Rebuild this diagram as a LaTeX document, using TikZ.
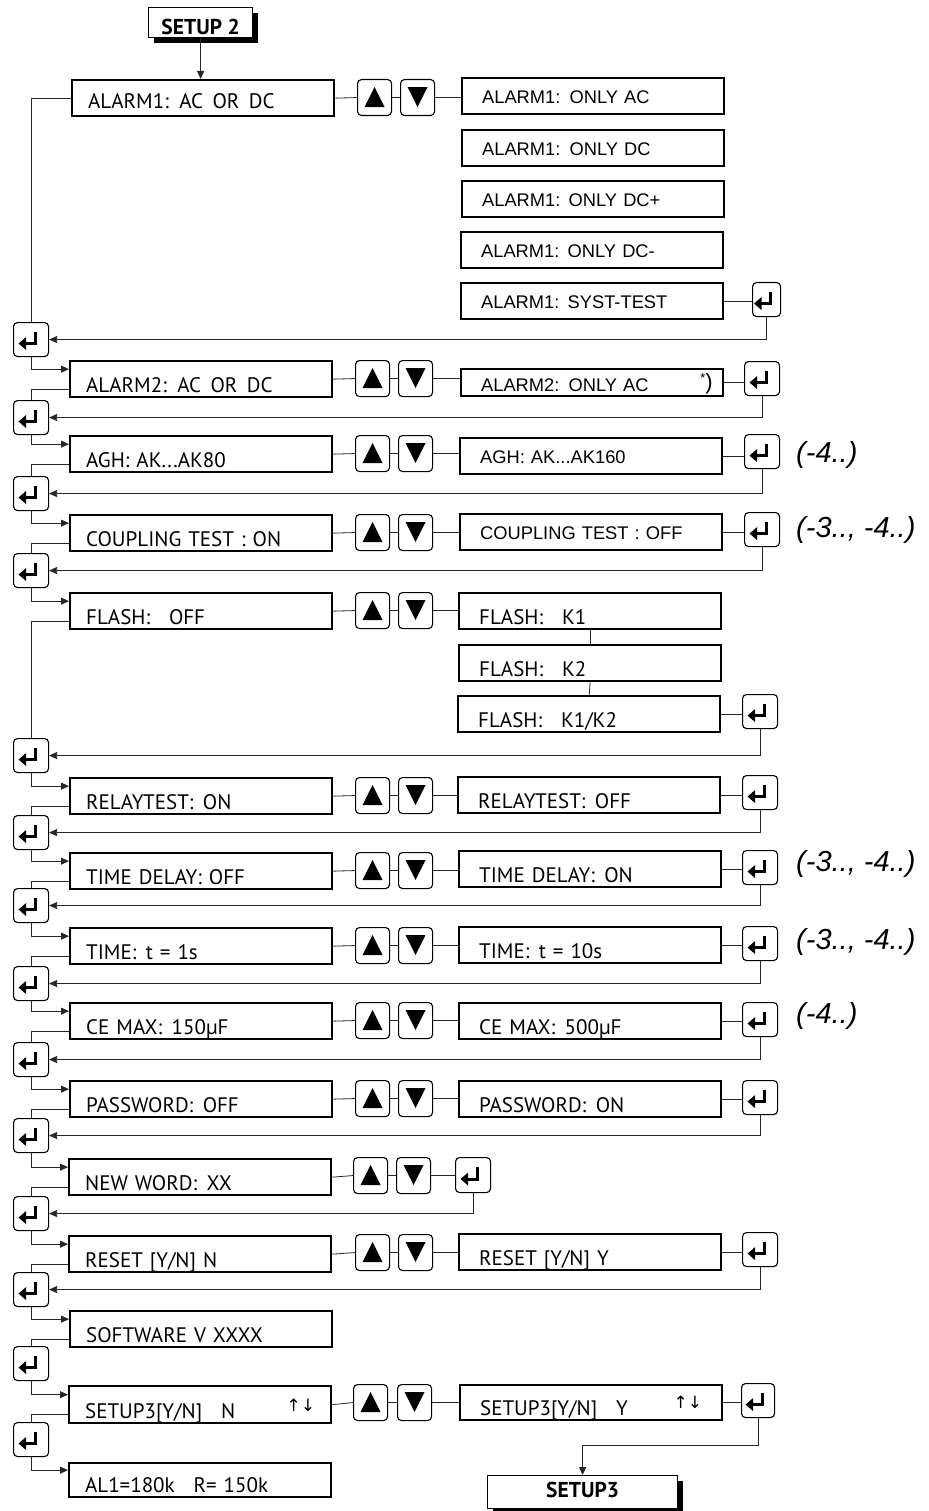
\documentclass[tikz,border=0pt]{standalone}
\usepackage{fontspec}
\setmainfont{PT Sans}
\newfontfamily\hvfam{Liberation Sans}
\newfontfamily\djfam{DejaVu Sans}
\usetikzlibrary{arrows.meta,shadows}
\newcommand\mytxt{\fontsize{21}{25}\selectfont}
\newcommand\hvtxt{\hvfam\fontsize{18.3}{22}\selectfont}
\newcommand\notetxt{\hvfam\itshape\fontsize{29}{32}\selectfont}
\newcommand\ws{\hspace{0.45em}}
\newcommand\wws{\hspace{0.9em}}
\newcommand\updn{\hfill{\djfam\fontsize{17}{17}\selectfont\raisebox{7pt}{↑↓}}\hspace{8pt}}
\begin{document}
\begin{tikzpicture}[x=1pt,y=-1pt,
  conn/.style={line width=0.8pt, draw=black!85},
  arr/.style={-{Triangle[length=8pt,width=7pt]}},
  lbox/.style={draw, line width=2.3pt, rectangle, anchor=north west, inner xsep=16pt, inner ysep=0pt,
     text width=230pt, align=left, text height=31pt, text depth=5pt, font=\mytxt},
  rbox/.style={lbox, inner xsep=20pt, text width=222pt},
  hbox/.style={rbox, text height=25pt, text depth=11pt, font=\hvtxt},
  sbox/.style={draw, line width=1.2pt, fill=white, anchor=north west, inner sep=0pt,
     drop shadow={shadow xshift=5pt, shadow yshift=-5pt, opacity=1, fill=black},
     font=\fontsize{21.5}{22}\selectfont\bfseries},
  btn/.style={draw, line width=1.1pt, rounded corners=4pt, anchor=north west,
     minimum width=34pt, minimum height=36pt, inner sep=0pt},
  upb/.style={btn, path picture={\fill[sharp corners] ([xshift=-10pt,yshift=-9.5pt]path picture bounding box.center) -- ++(20pt,0pt) -- ++(-10pt,20pt) -- cycle;}},
  dnb/.style={btn, path picture={\fill[sharp corners] ([xshift=-10pt,yshift=10.5pt]path picture bounding box.center) -- ++(20pt,0pt) -- ++(-10pt,-20pt) -- cycle;}},
  ent/.style={btn, minimum width=35pt, minimum height=34pt,
     path picture={
       \draw[line width=3pt, sharp corners, line join=miter] ([xshift=4pt,yshift=8pt]path picture bounding box.center) -- ++(0pt,-12pt) -- ++(-10pt,0pt);
       \fill[sharp corners] ([xshift=-12.5pt,yshift=-4pt]path picture bounding box.center) -- ++(7.5pt,6.5pt) -- ++(0pt,-13pt) -- cycle;}},
  note/.style={font=\notetxt, anchor=west, inner sep=0pt}
]
\useasboundingbox (0,0) rectangle (928,1511);

% ---------- top
\node[sbox, minimum width=104pt, minimum height=30pt, text height=27pt, text depth=3pt] (S2) at (148,7) {SETUP 2\hspace{5pt}};

% ---------- row 1
\node[lbox, text height=28pt, text depth=8pt] (L1) at (71,79) {ALARM1: AC\ws OR\ws DC};
\node[upb] (U1) at (357,79) {};
\node[dnb] (D1) at (400,79) {};
\node[hbox] (R1)  at (461,77)  {ALARM1: ONLY AC};
\node[hbox] (R1b) at (461,129) {ALARM1: ONLY DC};
\node[hbox] (R1c) at (461,180) {ALARM1:\ws ONLY DC+};
\node[hbox] (R1d) at (460,231) {ALARM1:\ws ONLY DC-};
\node[hbox] (R1e) at (460,282) {ALARM1:\ws SYST-TEST};
\node[ent, minimum width=28pt] (E1) at (752,282) {};
\node[ent] (K1) at (13,322) {};

% ---------- row 2
\node[lbox] (L2) at (69,360) {ALARM2: AC\ws OR\ws DC};
\node[upb] (U2) at (355,360) {};
\node[dnb] (D2) at (398,360) {};
\node[hbox, text height=22pt, text depth=5pt] (R2) at (460,368) {ALARM2: ONLY AC};
\node[font=\hvtxt, anchor=base east, inner sep=0pt] (ast) at (713,389) {\raisebox{7pt}{\fontsize{13}{13}\selectfont *}{\fontsize{22}{22}\selectfont )}};
\node[ent] (E2) at (744,361) {};
\node[ent] (K2) at (13,400) {};

% ---------- row 3
\node[lbox] (L3) at (69,435) {AGH: AK...AK80};
\node[upb] (U3) at (355,435) {};
\node[dnb] (D3) at (398,435) {};
\node[hbox] (R3) at (459,437) {AGH: AK...AK160};
\node[ent] (E3) at (744,434) {};
\node[note] (N3) at (796,455) {(-4..)};
\node[ent] (K3) at (13,476) {};

% ---------- row 4
\node[lbox] (L4) at (69,514) {COUPLING TEST : ON};
\node[upb] (U4) at (355,514) {};
\node[dnb] (D4) at (398,514) {};
\node[hbox] (R4) at (459,513) {COUPLING TEST : OFF};
\node[ent] (E4) at (744,512) {};
\node[note] (N4) at (796,530) {(-3.., -4..)};
\node[ent] (K4) at (13,553) {};

% ---------- row 5
\node[lbox] (L5) at (69,592) {FLASH:\wws OFF};
\node[upb] (U5) at (355,592) {};
\node[dnb] (D5) at (398,592) {};
\node[rbox] (R5)  at (458,592) {FLASH:\wws K1};
\node[rbox] (R5b) at (458,644) {FLASH:\wws K2};
\node[rbox] (R5c) at (457,695) {FLASH:\wws K1/K2};
\node[ent] (E5) at (742,694) {};
\node[ent] (K5) at (13,738) {};

% ---------- row 6
\node[lbox] (L6) at (69,777) {RELAYTEST:\ws ON};
\node[upb] (U6) at (355,777) {};
\node[dnb] (D6) at (398,777) {};
\node[rbox] (R6) at (457,776) {RELAYTEST:\ws OFF};
\node[ent] (E6) at (742,775) {};
\node[ent] (K6) at (13,815) {};

% ---------- row 7
\node[lbox] (L7) at (69,852) {TIME DELAY: OFF};
\node[upb] (U7) at (355,852) {};
\node[dnb] (D7) at (398,852) {};
\node[rbox] (R7) at (458,850) {TIME DELAY:\ws ON};
\node[ent] (E7) at (742,850) {};
\node[note] (N7) at (796,864) {(-3.., -4..)};
\node[ent] (K7) at (13,888) {};

% ---------- row 8
\node[lbox] (L8) at (69,927) {TIME:\ws t = 1s};
\node[upb] (U8) at (355,927) {};
\node[dnb] (D8) at (398,927) {};
\node[rbox] (R8) at (458,926) {TIME:\ws t = 10s};
\node[ent] (E8) at (742,926) {};
\node[note] (N8) at (796,942) {(-3.., -4..)};
\node[ent] (K8) at (13,966) {};

% ---------- row 9
\node[lbox] (L9) at (69,1002) {CE MAX:\ws 150µF};
\node[upb] (U9) at (355,1002) {};
\node[dnb] (D9) at (398,1002) {};
\node[rbox] (R9) at (458,1002) {CE MAX:\ws 500µF};
\node[ent] (E9) at (742,1002) {};
\node[note] (N9) at (796,1016) {(-4..)};
\node[ent] (K9) at (13,1042) {};

% ---------- row 10
\node[lbox] (L10) at (69,1080) {PASSWORD:\ws OFF};
\node[upb] (U10) at (355,1080) {};
\node[dnb] (D10) at (398,1080) {};
\node[rbox] (R10) at (458,1080) {PASSWORD:\ws ON};
\node[ent] (E10) at (742,1080) {};
\node[ent] (K10) at (13,1118) {};

% ---------- row 11
\node[lbox] (L11) at (68,1158) {NEW WORD:\ws XX};
\node[upb] (U11) at (353,1157) {};
\node[dnb] (D11) at (396,1157) {};
\node[ent, minimum height=35pt] (E11) at (455,1157) {};
\node[ent] (K11) at (13,1196) {};

% ---------- row 12
\node[lbox] (L12) at (68,1235) {RESET [Y/N] N};
\node[upb] (U12) at (355,1234) {};
\node[dnb] (D12) at (398,1234) {};
\node[rbox] (R12) at (458,1233) {RESET [Y/N] Y};
\node[ent] (E12) at (742,1232) {};
\node[ent] (K12) at (13,1272) {};

% ---------- row 13
\node[lbox] (L13) at (69,1310) {SOFTWARE V XXXX};
\node[ent] (K13) at (13,1346) {};

% ---------- row 14
\node[lbox, text height=32pt] (L14) at (68,1385) {SETUP3[Y/N]\wws N\updn};
\node[upb] (U14) at (353,1384) {};
\node[dnb] (D14) at (397,1384) {};
\node[rbox, text height=30pt] (R14) at (459,1384) {SETUP3[Y/N]\wws Y\updn};
\node[ent, minimum width=33pt] (E14) at (741,1383) {};
\node[ent] (K14) at (13,1422) {};

% ---------- row 15
\node[lbox, text height=29pt] (L15) at (68,1462) {AL1=180k\wws R= 150k};

% ---------- SETUP3
\node[sbox, minimum width=190pt, minimum height=33pt, text height=22pt, text depth=11pt] (S3) at (487,1475) {SETUP3\hspace{8pt}};

% ================= connectors
\draw[conn, arr] (S2.south) -- (S2.south |- L1.north);

% horizontal chains
\foreach \i in {1,...,12,14} {
  \draw[conn] (L\i.east) -- (U\i.west);
  \draw[conn] (U\i.east) -- (D\i.west);
}
\foreach \i in {1,2,3,4,5,6,7,8,9,10,12,14} {
  \draw[conn] (D\i.east) -- (D\i.east -| R\i.west);
}
\draw[conn] (D11.east) -- (D11.east -| E11.west);
\foreach \i in {2,3,4,6,7,8,9,10,12,14} {
  \draw[conn] (R\i.east) -- (R\i.east -| E\i.west);
}
\draw[conn] (R1e.east) -- (R1e.east -| E1.west);
\draw[conn] (R5c.east) -- (R5c.east -| E5.west);
\draw[conn] (R5.south) -- (R5b.north);
\draw[conn] (R5b.south) -- (R5c.north);

% returns to the left enter keys
\foreach \i in {1,...,12} {
  \draw[conn, arr] (E\i.south) |- (K\i.east);
}

% left chain
\draw[conn] (L1.west) -| (K1.north);
\foreach \i in {2,...,14} {
  \draw[conn] ([yshift=-10pt]L\i.west) -| (K\i.north);
}
\foreach \i/\j in {1/2,2/3,3/4,4/5,5/6,6/7,7/8,8/9,9/10,10/11,11/12,12/13,13/14,14/15} {
  \draw[conn, arr] (K\i.south) |- ([yshift=10pt]L\j.west);
}

% to SETUP3
\path (0,1445) coordinate (h14);
\draw[conn, arr] (E14.south) -- (E14.south |- h14) -| (S3.north);
\end{tikzpicture}
\end{document}
